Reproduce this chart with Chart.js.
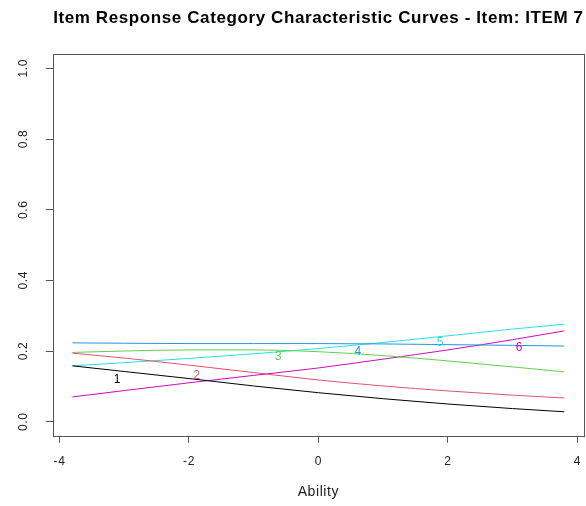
<!DOCTYPE html>
<html>
<head>
<meta charset="utf-8">
<script src="https://cdn.jsdelivr.net/npm/chart.js@4.4.1/dist/chart.umd.min.js"></script>
<style>
  html, body { margin: 0; padding: 0; background: #ffffff; }
  #wrap { width: 586px; height: 506px; }
</style>
</head>
<body>
<div id="wrap"><canvas id="c" width="586" height="506"></canvas></div>
<script>
// ---- data ----
const titleText = 'Item Response Category Characteristic Curves - Item: ITEM 7';
const xAxisTitle = 'Ability';
const abilities = [-3.8, -3, -2, -1, 0, 1, 2, 3, 3.8];
const categories = ['1', '2', '3', '4', '5', '6'];
const cat1 = [0.158, 0.142, 0.122, 0.101, 0.082, 0.065, 0.050, 0.037, 0.028];
const cat2 = [0.194, 0.180, 0.160, 0.139, 0.118, 0.101, 0.087, 0.075, 0.067];
const cat3 = [0.196, 0.200, 0.203, 0.203, 0.198, 0.187, 0.172, 0.155, 0.141];
const cat4 = [0.223, 0.222, 0.221, 0.221, 0.221, 0.220, 0.218, 0.216, 0.214];
const cat5 = [0.158, 0.167, 0.179, 0.192, 0.207, 0.224, 0.243, 0.262, 0.276];
const cat6 = [0.070, 0.088, 0.110, 0.131, 0.152, 0.177, 0.203, 0.232, 0.257];
const labelAbility = [-3.11, -1.88, -0.62, 0.61, 1.88, 3.1];
const labelProb = [0.118, 0.129, 0.183, 0.197, 0.223, 0.209];
const xTicks = [-4, -2, 0, 2, 4];
const xTickLabels = ['-4', '-2', '0', '2', '4'];
const yTicks = [0, 0.2, 0.4, 0.6, 0.8, 1.0];
const yTickLabels = ['0.0', '0.2', '0.4', '0.6', '0.8', '1.0'];

// ---- styling ----
const colors = ['#000000', '#DF536B', '#61D04F', '#2297E6', '#28E2E5', '#CD0BBC'];
const FONT = '"Liberation Sans", Arial, Helvetica, sans-serif';
const series = [cat1, cat2, cat3, cat4, cat5, cat6];

const datasets = series.map((vals, i) => ({
  label: categories[i],
  data: abilities.map((a, j) => ({ x: a, y: vals[j] })),
  borderColor: colors[i],
  borderWidth: 1,
  pointRadius: 0,
  fill: false,
  cubicInterpolationMode: 'monotone'
}));

const boxPlugin = {
  id: 'box',
  beforeDraw(chart) {
    const ctx = chart.ctx;
    ctx.save();
    ctx.fillStyle = '#ffffff';
    ctx.fillRect(0, 0, chart.width, chart.height);
    ctx.restore();
    ctx.letterSpacing = '0.6px';
  },
  beforeDatasetsDraw(chart) {
    chart.ctx.letterSpacing = '0px';
  },
  afterDatasetsDraw(chart) {
    const ctx = chart.ctx;
    const xs = chart.scales.x, ys = chart.scales.y;
    ctx.save();
    ctx.letterSpacing = '0px';
    ctx.font = '12px ' + FONT;
    ctx.textAlign = 'center';
    ctx.textBaseline = 'middle';
    categories.forEach((c, i) => {
      ctx.fillStyle = colors[i];
      ctx.fillText(c, xs.getPixelForValue(labelAbility[i]), ys.getPixelForValue(labelProb[i]));
    });
    const a = chart.chartArea;
    ctx.strokeStyle = '#555555';
    ctx.lineWidth = 1;
    ctx.strokeRect(Math.round(a.left) + 0.5, Math.round(a.top) + 0.5,
                   Math.round(a.right - a.left), Math.round(a.bottom - a.top));
    ctx.restore();
  }
};

new Chart(document.getElementById('c'), {
  type: 'line',
  data: { datasets },
  plugins: [boxPlugin],
  options: {
    responsive: false,
    animation: false,
    devicePixelRatio: 1,
    layout: { padding: { left: 0, right: 2, top: 0, bottom: 0 } },
    plugins: {
      legend: { display: false },
      tooltip: { enabled: false },
      title: {
        display: true,
        text: titleText,
        fullSize: false,
        color: '#000000',
        font: { family: FONT, size: 17, weight: 'bold' },
        padding: { top: 7.8, bottom: 26 }
      }
    },
    scales: {
      x: {
        type: 'linear',
        min: -4.104,
        max: 4.104,
        afterBuildTicks(scale) { scale.ticks = xTicks.map(v => ({ value: v })); },
        afterFit(scale) { scale.height = 70.2; scale.paddingLeft = 0; scale.paddingRight = 0; },
        border: { display: false },
        grid: { drawOnChartArea: false, drawTicks: true, tickLength: 7, color: '#555555' },
        ticks: {
          color: '#222222',
          font: { family: FONT, size: 12 },
          padding: 12,
          maxRotation: 0,
          callback(v, i) { return xTickLabels[i]; }
        },
        title: {
          display: true,
          text: xAxisTitle,
          color: '#222222',
          font: { family: FONT, size: 14 },
          padding: { top: 0, bottom: 5.6 }
        }
      },
      y: {
        type: 'linear',
        min: -0.04,
        max: 1.04,
        afterBuildTicks(scale) { scale.ticks = yTicks.map(v => ({ value: v })); },
        afterFit(scale) { scale.width = 52.8; scale.paddingTop = 0; scale.paddingBottom = 0; },
        border: { display: false },
        grid: { drawOnChartArea: false, drawTicks: true, tickLength: 7, color: '#555555' },
        ticks: {
          color: '#222222',
          font: { family: FONT, size: 12 },
          padding: 14,
          crossAlign: 'center',
          minRotation: 90,
          maxRotation: 90,
          callback(v, i) { return yTickLabels[i]; }
        }
      }
    }
  }
});
</script>
</body>
</html>
